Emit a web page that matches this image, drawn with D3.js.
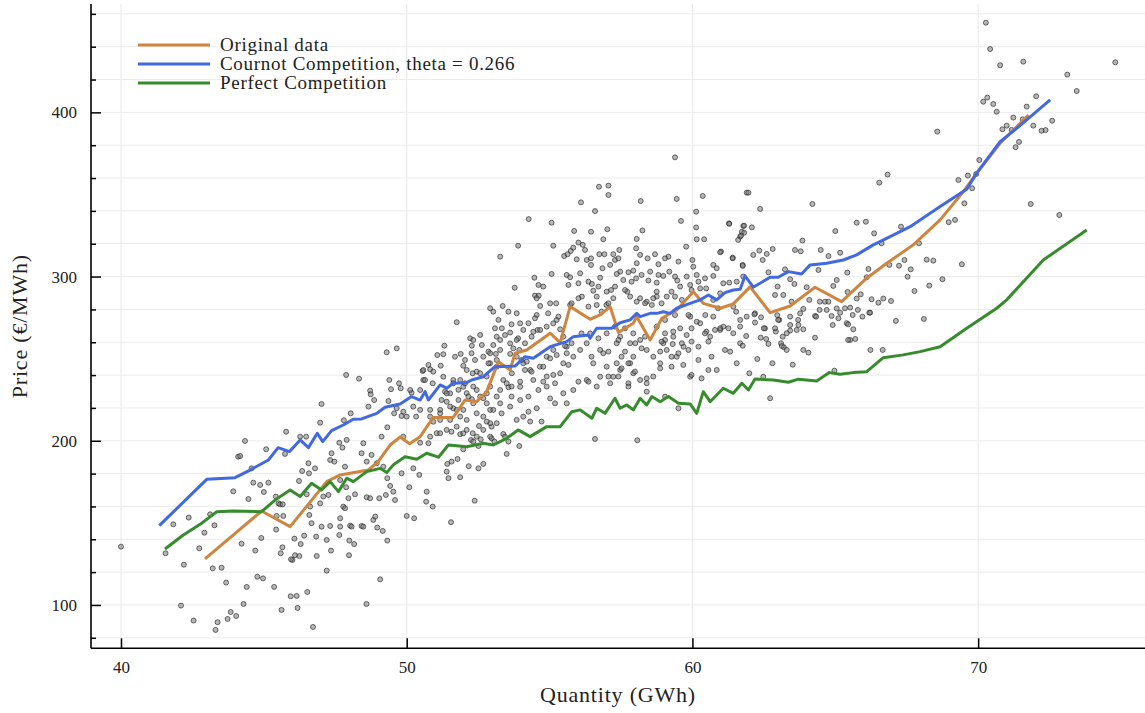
<!DOCTYPE html>
<html><head><meta charset="utf-8">
<script src="https://cdn.jsdelivr.net/npm/d3@7"></script>
<style>
body{margin:0;background:#fff}
svg text{font-family:"Liberation Serif","DejaVu Serif",serif;fill:#222}
</style>
</head><body><svg id="c" width="1145" height="713"></svg>
<script>
// ---- Data ----
const scatter = [
[42.2,124.5],[43.21,122.3],[43.52,122.7],[43.68,113.6],[44.4,111],[44.77,117.2],[44.97,116.2],[45.36,111],[47.2,120.9],[49.07,115.6],[42.1,99.6],[42.54,90.5],[43.38,89.5],[43.31,84.8],[43.73,91.5],[43.84,95.7],[44.03,93.3],[44.29,100.6],[45.62,97],[45.94,105.3],[46.15,105.5],[46.18,98.2],[46.52,107.9],[46.72,86.6],[48.59,100.6],[46.0,127.4],
[40.0,135.5],[41.56,131.5],[41.83,149.1],[42.37,153.2],[42.74,134.5],[42.92,144],[43.27,148.5],[43.12,155.2],[43.93,169.2],[44.46,164.5],[44.22,137.3],[44.1,190.3],[44.17,190.7],[44.34,199.9],[44.63,174.5],[44.87,173.1],[45.0,168.8],[45.16,174.5],[45.08,194.8],[44.57,183.2],[44.7,133.1],[44.91,140.8],[45.43,145.9],[45.42,166],[45.51,161.9],[45.57,161.3],[45.66,161.3],[45.45,154.2],[45.68,154.2],[45.78,205.5],[45.74,192],[45.59,131.5],[45.65,135.1],[45.95,127.8],[46.09,130.3],[46.24,129.8],[46.07,140.4],[46.29,137.1],[46.41,142.2],[46.23,175.5],[46.34,181.6],[46.58,180.2],[46.79,183.2],[46.56,186.3],[46.27,202.5],[46.48,202.5],[46.97,211],[47.02,222.4],[46.5,167.4],[46.62,159.9],[46.59,154.8],[46.67,149.8],[46.83,141.6],[46.85,129.8],[46.97,161.9],[47.02,147.7],[47.08,166],[47.26,167],[47.32,148.1],[47.2,139.6],[47.35,133.1],[47.32,188.3],[47.37,192.4],[47.47,187.3],[47.64,198.8],[47.75,195.8],[47.9,200.5],[47.84,184.2],[47.67,176.1],[47.88,171.7],[47.96,165],[47.78,159.9],[47.84,158.9],[47.67,152.8],[47.67,147.7],[48.02,148.3],[47.64,142.6],[47.99,139.2],[48.16,137.1],[47.98,130.3],[48.07,147.7],[48.19,167.4],[48.42,148.1],[48.48,147.7],[48.6,165.6],[48.72,165],[48.83,151.8],[48.9,153.8],[48.97,147.1],[49.16,145.1],[49.32,139.2],[48.42,192.4],[48.48,198.5],[48.6,187.3],[48.77,191.4],[48.95,186.3],[49.18,184.2],[49.32,177.2],[49.42,172.5],[49.53,169],[49.59,163.9],[49.27,167],[49.04,165],[49.12,202.5],[49.32,208.2],[49.56,216.7],[49.82,215.1],[50.0,154.2],[50.26,152.8],[49.82,180.2],[50.09,171.7],[50.23,183.2],[50.44,179.2],[50.7,169],[50.68,162.9],[50.91,159.9],[50.47,198.8],[50.76,198.5],[50.93,211.6],[51.46,177.2],[51.4,181.2],[51.55,150.4],[50.82,218.8],[51.17,218.8],[51.17,212.7],[51.05,204.6],
[56.59,201.1],[58.07,200.3],[53.94,196.8],[53.5,192],[53.38,204.1],[52.97,201.5],[53.07,199.5],[52.68,185.9],[52.51,183.2],[52.17,184.5],[52.38,163.5],[51.87,177.8],[51.78,188.9],[51.57,187.3],[51.42,185.9],[52.31,204.6],[51.87,204],[51.57,205.5],[52.25,200.5],[52.59,200.9],[52.51,196.8],[51.98,194.8],[52.97,208.6],[52.53,209],[53.56,199.5],
[47.88,240.1],[48.33,237.8],[48.04,216.7],[47.8,212.5],[48.72,230.5],[48.74,228.3],[48.86,224.8],[48.66,220.8],[49.3,253.9],[49.65,256.3],[49.39,237],[49.45,231.4],[49.73,235],[49.79,232],[49.36,224.2],[49.65,219.8],[49.88,217.7],[50.17,229.3],[50.47,230.9],[50.58,237],[50.56,242.5],[50.76,246.2],[50.82,243.5],[50.93,242.1],[50.91,235],[51.19,245.7],[51.07,252.2],[51.28,252.7],[51.32,257.9],[51.75,272.2],[51.89,252.9],[51.98,245.7],[52.04,249.2],[52.22,262.4],[52.28,257.9],[52.57,264.4],[52.63,258.3],[52.92,280.7],[53.03,278.6],[53.21,273.6],[53.09,268.5],[53.15,263.4],[53.03,258.3],[52.86,254.3],[53.12,252.9],[52.31,241.1],[52.45,242.1],[52.92,247.2],[51.34,229.9],[51.52,228.9],[51.4,223.8],[51.63,219.8],[51.81,224.8],[51.98,232.9],[52.1,229],[52.68,225.9],[52.8,222.8],[52.92,218.8],[53.27,312.1],[50.33,214.7],
[59.39,372.6],[56.73,354.7],[57.06,355.4],[57.06,349.7],[56.1,345.2],[56.59,339.9],[58.19,346],[59.45,347.3],[60.36,349.1],[60.13,339.5],[59.6,333.9],[60.13,329.9],[60.15,322.7],[60.41,322.7],[61.9,351.1],[61.28,332.4],[61.78,330.8],[61.73,327.3],[61.67,324.3],[54.27,335],[55.07,332.8],[55.13,318.8],[53.9,318.8],[53.78,293.2],[54.47,299.3],[54.61,294.9],[54.78,293.9],[54.49,288.4],[54.62,288.4],[55.07,301.6],[55.6,301],[55.72,299.6],[55.86,327.8],[56.01,320.7],[56.16,319.3],[55.83,317.6],[55.74,315.6],[55.51,312.5],[55.63,313.6],[56.3,310.1],[56.45,311.1],[56.24,316.2],[56.45,327.3],[56.74,313.6],[56.92,313.6],[57.02,328.8],[57.23,313.6],[57.44,316.2],[57.29,310.1],[57.12,307.1],[56.45,307.1],[56.85,305.1],[56.88,322.7],[58.05,322.9],[58.03,317.2],[58.25,328.1],[58.17,313.2],[58.43,311.1],[58.69,313.6],[58.81,307.5],[59.16,312.1],[59.51,309.1],[59.78,318.2],[60.0,310.1],[60.03,306],[61.41,311.5],[60.73,307.1],[60.85,305.1],[61.0,315.2],[61.76,307.1],[61.78,300],[59.19,303],[58.98,300.4],[58.75,296.3],[58.75,290.8],[58.46,297.6],[57.93,303.6],[58.03,298.9],[57.76,302.6],[57.47,303],[57.35,301.6],[57.15,291.8],[56.77,299.3],[56.48,295.5],[56.13,287.8],[56.53,291.4],[56.65,287.8],[56.99,282.7],[57.23,286.8],[57.72,290.8],[57.82,287.8],[58.17,286.8],[58.4,284.7],[58.58,282.7],[58.75,287.8],[59.1,287.8],[59.39,287.8],[59.47,297.6],[59.8,300],[59.92,294.9],[60.27,292.8],[60.48,292.8],[60.73,300.4],[61.08,295.9],[61.29,296.3],[61.55,296.9],[60.97,289.8],
[53.36,282.1],[53.56,278.6],[53.33,268.5],[53.62,265.9],[53.85,277.6],[53.9,262.4],[54.14,259.4],[54.55,276.6],[54.58,267.5],[54.95,277.6],[55.23,283.7],[55.25,273.6],[54.9,269.5],[54.26,271.6],[54.43,266.4],[53.94,255.3],[53.62,252.9],[53.27,255.3],[52.92,253.3],[52.86,247.2],[53.15,245.1],[53.38,237],[53.68,241.1],[54.08,247.2],[54.32,243.1],[54.43,237],[53.97,232.9],[53.56,232.6],[53.15,226.9],[52.8,228.9],[52.45,230.9],[52.28,225.3],[52.04,235],[51.63,237],[51.28,239],[50.64,237],[50.58,243.1],[50.12,230.9],[50.23,220.8],[50.0,214.7],[50.47,218.8],[50.82,214.7],[51.17,216.7],[51.52,220.8],[51.98,218.8],[52.33,222.8],[52.68,214.7],[52.92,210.7],[53.15,210.7],[52.1,206.6],[52.45,202.5],[51.17,204.6],[50.82,202.5],[49.88,202.5],[54.66,245.1],[54.9,251.2],[55.13,255.3],[55.48,247.2],[55.6,257.3],[55.83,251.2],[56.07,255.3],[56.3,259.4],[56.77,255.3],[56.53,247.2],[56.88,253.3],[57.0,245.1],[56.3,237],[56.01,236],[56.77,239],[57.12,235],[57.23,239],[57.47,243.1],[57.52,251.2],[57.82,247.2],[57.93,241.1],[57.76,235],[58.17,237],[58.4,235],[58.63,251.2],[58.87,247.2],[58.4,255.3],[58.17,261.4],[57.82,259.4],[57.35,259.4],[57.47,263.4],[59.1,255.3],[59.45,251.2],[59.69,257.3],[59.8,264.4],[59.33,263.4],[58.98,259.4],[59.31,258.9],[59.92,239],[60.32,238],[60.85,243.1],[61.14,255.3],[61.32,254.3],[61.67,259.4],[61.43,265.5],[60.97,267.5],[60.62,263.4],[60.27,271.6],[59.92,275.6],[60.73,275.6],[61.08,269.5],[61.67,269.5],[61.43,281.7],[61.9,275.6],[61.55,247.2],
[70.27,454.6],[70.42,438.6],[70.77,428.7],[71.58,430.9],[74.8,430.5],[73.12,423],[73.45,413],[70.18,406.5],[70.32,409],[70.53,405.1],[70.65,400.4],[72.03,409.8],[71.7,403.5],[71.56,395.8],[71.93,391.9],[72.22,388.8],[72.36,389.2],[72.59,394.9],[71.23,396.8],[71.0,391.9],[70.85,389.7],[71.17,389.3],[71.43,382],[71.31,378.8],[71.84,344.2],[72.84,337.5],[68.57,388.3],[70.04,371],[69.93,362.5],[69.64,361.5],[69.31,358.8],[69.79,353.8],[69.52,344.6],[69.43,307.5],[69.19,334.5],[68.97,333.1],[68.75,298.4],[68.43,309.7],[68.2,310.3],[68.29,294.5],[68.1,274.2],[67.77,291.2],[67.64,304.4],[67.53,299.9],[67.93,320.3],[66.54,357.2],[66.83,362.1],[65.75,332.8],[66.07,333.4],[66.36,326.3],[66.62,320.3],[67.3,330.4],[66.89,307.1],[67.23,306.6],[67.42,310.1],[66.16,304.6],[66.1,299.6],[65.89,289.2],[66.27,286.2],[66.51,284.1],[66.68,286.6],[66.95,285.1],[67.12,273],[66.19,278],[65.75,286.6],[65.42,302.4],[65.43,290.6],[65.0,327.7],[65.17,314.5],[64.93,294.3],[65.05,297.9],[64.2,344.2],[63.85,321.9],[63.59,316.2],[63.79,315.4],[64.49,316.2],[64.76,312.5],[64.41,304],[64.0,293.5],[64.09,285.8],[64.46,284.7],[64.64,284.7],[64.76,284.7],[65.05,280.6],[61.96,351.1],[62.37,341.2],[61.29,332.1],[61.81,331],[62.08,330],[61.81,326.7],[61.7,324.9],[61.6,322.3],[60.97,314.8],[61.41,311.1],[62.13,313.2],[62.34,315.8],[62.6,313.8],[62.81,316.8],[62.46,310.1],[61.76,306.5],[62.66,302.6],[63.24,304.4],[63.42,298.4],[63.57,295.5],[62.98,293.9],[62.89,288.8],[63.18,288.8],[63.47,284.7],[63.77,277.6],[64.29,276],[64.7,279.7],[64.91,270.5],[65.4,271.6],[65.61,276.6],[65.52,261.4],[65.7,262],[63.88,267.9],[63.42,270.5],[63.04,273.6],[62.54,268.5],[62.19,277.6],[62.19,272],[61.67,273.6],[61.53,278.6],[61.26,268.5],[60.97,268.5],[60.79,267.5],[60.49,266.5],[60.45,276.6],[60.9,280.7],[62.92,266.5],[63.1,259.4],[63.2,257],[63.7,273.6],[66.23,255.3],[66.66,255.3],
[66.22,278],[65.95,275.6],[65.79,279.7],[65.52,281.1],[65.34,280.7],[65.17,278],[65.11,274.6],[65.45,270.9],[65.63,267.9],[65.45,261.4],[64.87,276],[64.45,279.7],[64.33,275.6],[64.29,262.8],[63.88,255.3],[64.06,253.7],[63.71,270.5],[63.65,267.5],[63.42,267.1],[63.3,265.5],[63.16,263.4],[63.13,257.7],[63.3,255.3],[62.89,268.5],[63.0,273.6],[62.97,276.5],[63.42,275.6],[63.88,280.3],[62.5,268.5],[62.39,262.8],[62.58,262],[62.66,259],[62.4,275.2],[62.17,277],[61.88,263.8],[61.76,257.9],[62.27,249.8],[62.8,247.2],[63.51,246.3],[61.99,241.1],[62.48,239],[62.72,225.9],[64.97,242.7],
[51.69,251.2],[52.27,253.3],[52.39,249.2],[53.67,270.9],[53.44,264.4],[53.62,259.3],[53.97,271.5],[54.08,267.5],[54.49,274.6],[54.37,263.4],[54.67,282.1],[55.02,283.7],[54.67,267.5],[55.13,271.5],[55.31,275.6],[55.37,267.9],[55.48,263.4],[55.54,257.7],[55.25,252.2],[55.02,250.2],[54.78,245.1],[54.37,242.1],[54.14,243.1],[53.97,236],[53.67,233],[53.5,235],[53.27,230.9],[52.92,233],[52.8,239.1],[52.57,241.1],[52.1,243.1],[51.87,237],[51.63,235],[51.4,228.9],[51.22,224.8],[51.75,218.8],[51.52,212.7],[51.87,214.7],[52.1,212.7],[52.45,216.7],[52.8,211.7],[52.68,206.6],[51.98,204.5],[51.75,208.6],[51.4,206.6],[53.03,218.8],[53.32,216.7],[53.67,226.9],[53.97,224.8],[54.26,226.9],[54.61,230.9],[54.9,233],[55.19,235],[55.48,228.9],[55.6,222.8],[55.02,225.8],[54.55,219.8],[54.08,214.7],[53.44,202.5],[52.33,199.5],[52.92,202.5],[53.85,212.7],[54.32,211.7],[54.78,236],[54.9,239.1],[55.13,240.1],[55.37,241.1],[54.55,286.8],[55.72,282.7],[53.85,251.2],[54.02,249.2],[54.2,248.2],[53.85,261.4],[53.73,256.3],[53.27,261.4],[53.15,249.2],[52.68,251.2],[52.33,261.4],[51.81,231],[52.16,226.9],[52.57,226.9],[52.33,233],[53.27,222.8],[53.62,220.8],[54.26,217.7],[54.72,211.7],[55.19,222.8],
[55.95,310.5],[57.41,311.1],[58.05,308.1],[59.04,311.1],[60.44,298.9],[60.15,301],[59.39,300],[58.81,301],[58.52,303],[58.22,301],[57.87,296.9],[57.58,297.9],[57.29,293.9],[57.0,290.8],[56.71,293.9],[56.36,296.9],[56.01,295.9],[55.66,294.9],[56.07,302],[56.01,286.8],[55.77,283.7],[56.36,281.7],[56.65,282.7],[56.82,278.6],[57.06,283.7],[57.64,291.8],[58.05,284.7],[58.34,283.7],[58.63,286.8],[58.92,283.7],[59.27,290.8],[59.57,293.9],[59.63,285.8],[59.97,291.8],[60.21,296.9],[60.73,285.8],[60.15,272.5],[59.86,276.6],[59.39,276.6],[59.04,273.6],[58.75,269.5],[59.04,265.4],[59.33,266.5],[59.57,268.5],[59.97,268.5],[60.44,265.4],[60.56,260.4],[60.21,257.3],[59.97,260.4],[59.63,259.4],[59.04,261.4],[58.87,254.3],[59.27,251.2],[59.51,253.3],[59.86,255.3],[60.21,249.2],[60.67,251.2],[60.56,243.1],[59.97,240.1],[59.68,246.2],[59.27,245.1],[58.87,244.1],[58.63,239.1],[58.4,238],[57.99,242.1],[57.76,247.2],[57.52,244.1],[57.41,239.1],[57.06,239.1],[56.36,236],[55.83,230.9],[56.65,233],[57.76,233],[58.4,229.9],[59.04,226.9],[59.51,219.8],[58.22,256.3],[57.93,251.2],[57.64,254.3],[57.35,247.2],[57.06,254.3],[56.47,251.2],[55.6,253.3],[55.66,246.2],[55.77,259.4],[56.12,265.4],[56.42,265.4],[56.71,262.4],[57.0,265.4],[57.29,269.5],[57.64,268.5],[57.93,265.4],[58.0,259.4],[57.41,261.4],[58.34,263.4],[58.92,260.4]
];

const origX = [42.94,44.92,45.92,47.2,47.67,48.66,49.0,49.42,49.77,50.1,50.47,50.93,51.63,52.04,52.45,52.8,53.21,53.62,53.79,54.2,55.02,55.37,55.72,56.42,56.77,57.12,57.41,57.93,58.05,58.52,58.93,59.45,60.03,60.38,60.97,61.43,62.02,62.72,63.42,64.29,65.22,66.1,66.8,67.73,68.67,69.48,69.95,70.77,71.76];
const origY = [128,157.2,147.7,175.1,179.2,182.2,187.3,197.4,202.3,198.2,202.5,214.2,214.2,224.8,223.8,229.9,248.2,243.1,253.3,255.3,265.5,259.8,281.7,274,276.6,281.7,265.9,271.6,275.6,261.4,274.6,279.7,290.8,283.7,280.7,283.4,293.7,278,282.1,293.5,284.7,299,308.1,319.3,334.5,351.7,363,381.2,398.4];

const cournotX = [41.34,43.0,43.99,44.5,45.16,45.5,45.9,46.27,46.56,46.87,47.06,47.37,47.78,48.13,48.42,48.95,49.24,49.77,50.17,50.47,50.64,50.76,51.17,51.4,51.63,52.1,52.27,52.68,53.09,53.79,54.14,54.43,55.02,55.6,55.83,56.36,56.42,56.65,57.17,57.47,57.82,58.05,58.17,58.52,58.75,58.98,59.22,59.45,59.92,60.27,60.56,60.85,61.14,61.43,61.67,61.84,62.13,62.72,63.0,63.36,63.82,64.12,64.7,65.28,65.75,66.33,66.92,67.62,68.67,69.6,69.95,70.77,71.35,72.52];
const cournotY = [148.3,176.5,177.5,182,188.3,195.8,193.4,200.5,195.8,204.6,199.5,206.2,209.6,213.1,213.3,216.7,220.4,222.4,226.9,224.8,229.9,224.8,234,232,235,235.4,237,239,245.1,245.5,251.2,250.2,257.3,260.4,263.4,264.4,262.4,268.5,268.5,271.9,273.6,277.6,275.6,277.6,277.6,278.6,277.6,280.7,283.7,285.8,288.8,285.8,290.2,291.8,292.3,300.4,293.5,299.6,299.6,303,301.6,307.1,308.1,310.1,313.2,319.3,324.3,330.4,342.6,353.2,363,382.2,390.3,407.6];

const perfectX = [41.54,42.18,42.77,43.35,43.93,44.92,45.39,45.92,46.27,46.67,47.02,47.32,47.61,47.9,48.13,48.6,49.07,49.3,49.53,49.94,50.35,50.7,51.11,51.46,52.1,52.68,53.03,53.5,53.9,54.32,54.9,55.37,55.78,56.07,56.48,56.65,56.94,57.29,57.47,57.7,57.93,58.17,58.4,58.58,58.87,59.16,59.51,59.92,60.15,60.38,60.62,61.08,61.43,61.73,61.96,62.19,62.83,63.36,63.71,64.35,64.79,65.17,65.63,66.1,66.68,67.38,67.97,68.67,69.6,70.65,71.0,72.28,73.8];
const perfectY = [134.1,142.6,149.1,156.8,157.2,156.8,163.9,170,166,174.1,170,175.1,169,177.2,175.1,181.2,183.2,180.6,185.3,190.3,188.7,192.4,190,197.4,196.4,198.5,197.4,201.5,206.6,202.5,208.6,208.6,217.7,218.8,213.7,219.8,216.7,225.9,219.8,221.8,218.8,225.9,221.8,226.9,223.8,226.9,222.8,222.4,216.7,229.9,223.8,232,228.9,235,230.9,237.6,237,235.6,237.5,236.4,241.5,240.5,241.5,242.1,250.6,252.3,254.3,257.3,268.5,280.7,285.8,310.1,328.4];

const seriesNames = ["Original data","Cournot Competition, theta = 0.266","Perfect Competition"];
const seriesColors = ["#cd853f","#4169e1","#368b2c"];
const xTicks = [40,50,60,70];
const yTicks = [100,200,300,400];
const yMinorTicks = [80,120,140,160,180,220,240,260,280,320,340,360,380,420,440,460];
const xTitle = "Quantity (GWh)";
const yTitle = "Price (€/MWh)";

// ---- Chart ----
const L=91, R=1145, T=4, B=648.3;
const svg = d3.select("#c");
const x = d3.scaleLinear().domain([38.95,75.84]).range([L,R]);
const y = d3.scaleLinear().domain([73.6,466]).range([B,T]);

const grid = svg.append("g");
grid.selectAll(".gx").data(xTicks).join("line")
  .attr("x1",d=>x(d)).attr("x2",d=>x(d)).attr("y1",T).attr("y2",B)
  .attr("stroke","#e8e8e8").attr("stroke-width",1);
grid.selectAll(".gy").data(yTicks.concat(yMinorTicks)).join("line")
  .attr("x1",L).attr("x2",R).attr("y1",d=>y(d)).attr("y2",d=>y(d))
  .attr("stroke","#ececec").attr("stroke-width",1);

svg.append("g").selectAll("circle").data(scatter).join("circle")
  .attr("cx",d=>x(d[0])).attr("cy",d=>y(d[1])).attr("r",2.5)
  .attr("fill","#7a7a7a").attr("fill-opacity",0.55)
  .attr("stroke","#1a1a1a").attr("stroke-opacity",0.6).attr("stroke-width",1);

const line = d3.line().x(d=>x(d[0])).y(d=>y(d[1]));
const lines = [d3.zip(origX,origY), d3.zip(cournotX,cournotY), d3.zip(perfectX,perfectY)];
lines.forEach((pts,i)=>{
  svg.append("path").datum(pts).attr("d",line).attr("fill","none")
    .attr("stroke",seriesColors[i]).attr("stroke-width",3).attr("stroke-linejoin","round");
});

// axes
const yAxis = d3.axisLeft(y).tickValues(yTicks).tickSizeInner(-10).tickSizeOuter(0).tickPadding(14);
const gy = svg.append("g").attr("transform",`translate(${L},0)`).call(yAxis);
const gyMinor = svg.append("g").attr("transform",`translate(${L},0)`)
  .call(d3.axisLeft(y).tickValues(yMinorTicks).tickSize(-5).tickFormat(""));
gyMinor.select(".domain").remove();
const xAxis = d3.axisBottom(x).tickValues(xTicks).tickSizeInner(-10).tickSizeOuter(0).tickPadding(13);
const gx = svg.append("g").attr("transform",`translate(0,${B})`).call(xAxis);
[gy,gyMinor,gx].forEach(g=>{
  g.selectAll("line").attr("stroke","#000").attr("stroke-width",1.5);
  g.selectAll(".domain").attr("stroke","#000").attr("stroke-width",1.6);
  g.selectAll("text").style("font-family",'"Liberation Serif",serif').style("font-size","17px").attr("fill","#222");
});
gy.select(".domain").attr("d",`M0,${T}V${B}`);
gx.select(".domain").attr("d",`M${L},0H${R}`);

svg.append("text").attr("x",(L+R)/2).attr("y",702).attr("text-anchor","middle")
  .style("font-size","22px").style("letter-spacing","0.8px").text(xTitle);
svg.append("text").attr("transform",`translate(27,${(T+B)/2}) rotate(-90)`).attr("text-anchor","middle")
  .style("font-size","22px").style("letter-spacing","0.8px").text(yTitle);

// legend
const lg = svg.append("g");
seriesNames.forEach((n,i)=>{
  const yy = 45 + i*19;
  lg.append("line").attr("x1",138).attr("x2",210).attr("y1",yy).attr("y2",yy)
    .attr("stroke",seriesColors[i]).attr("stroke-width",3);
  lg.append("text").attr("x",220).attr("y",yy+6).style("font-size","19px").style("letter-spacing","0.7px").text(n);
});
</script></body></html>
